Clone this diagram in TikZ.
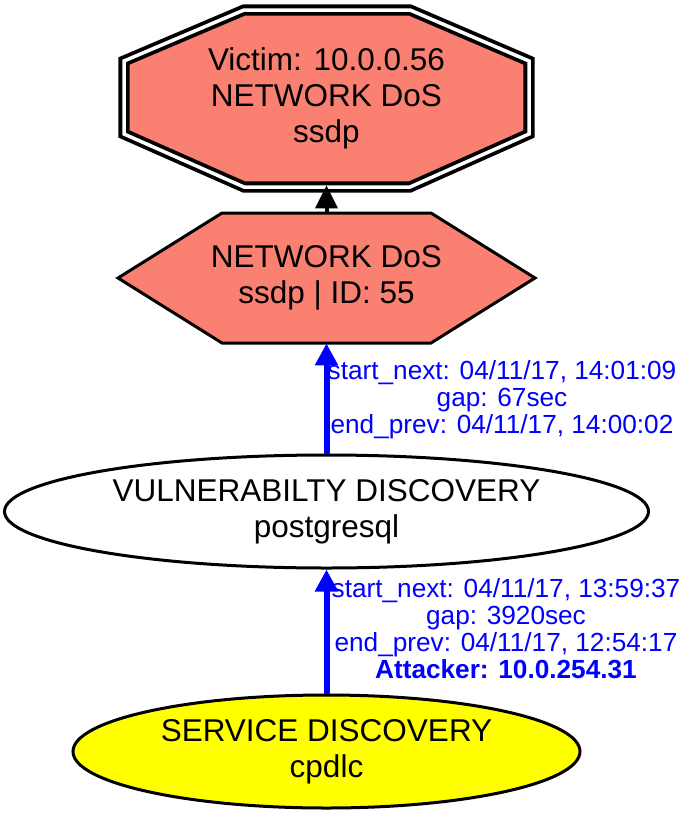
\documentclass[tikz,border=0pt]{standalone}
\usepackage{fontspec}
\setmainfont{Liberation Sans}
\usetikzlibrary{shapes, arrows.meta, positioning, calc}
\definecolor{salmon1}{RGB}{250, 128, 114}
\definecolor{yellow1}{RGB}{255, 255, 0}
\definecolor{blue1}{RGB}{0, 0, 255}

\begin{document}
\begin{tikzpicture}[
  x=0.5pt, y=-0.5pt,
  ntext/.style={align=center, font=\fontsize{15.75}{18}\selectfont, inner sep=0pt},
  oval/.style={ntext, draw, ellipse, line width=1.5pt, minimum height=56.5pt},
  elabel/.style={align=center, text=blue1, font=\fontsize{13.1}{13.5}\selectfont, inner sep=0pt},
  timeline/.style={draw=blue1, line width=3pt, -{Triangle[length=11pt, width=11pt]}},
  alertline/.style={line width=2pt, shorten >=-3.5pt, -{Triangle[length=11.5pt, width=11pt]}}
]
  \useasboundingbox (0,0) rectangle (689,814);
  \draw[fill=salmon1, line width=1.9pt, double, double distance=1.75pt]
    (244,10) -- (410,10) -- (529,61) -- (529,134) -- (410,187) -- (244,187) -- (124,134) -- (124,61) -- cycle;
  \draw[fill=salmon1, line width=1.5pt]
    (222,213) -- (431,213) -- (535,278) -- (431,343) -- (222,343) -- (118,278) -- cycle;
  \node[ntext, minimum width=207.5pt, minimum height=93.5pt] (victim) at (326.5,98.5) {Victim: 10.0.0.56\\NETWORK DoS\\ssdp};
  \node[ntext, minimum width=209pt, minimum height=65pt] (dos) at (326.5,278) {NETWORK DoS\\ssdp | ID: 55};
  \node[oval, fill=white, minimum width=322pt] (vuln) at (326.5,511.5) {VULNERABILTY DISCOVERY\\postgresql};
  \node[oval, fill=yellow1, minimum width=253.5pt] (svc) at (326.5,751.5) {SERVICE DISCOVERY\\cpdlc};
  \draw[alertline] (dos) -- (victim);
  \draw[timeline] (vuln) -- (dos);
  \draw[timeline] (svc) -- (vuln);
  \node[elabel] (gap1) at (502,400) {start\_next: 04/11/17, 14:01:09\\gap: 67sec\\end\_prev: 04/11/17, 14:00:02};
  \node[elabel] (gap2) at (506,629) {start\_next: 04/11/17, 13:59:37\\gap: 3920sec\\end\_prev: 04/11/17, 12:54:17\\\textbf{Attacker: 10.0.254.31}};
\end{tikzpicture}
\end{document}
